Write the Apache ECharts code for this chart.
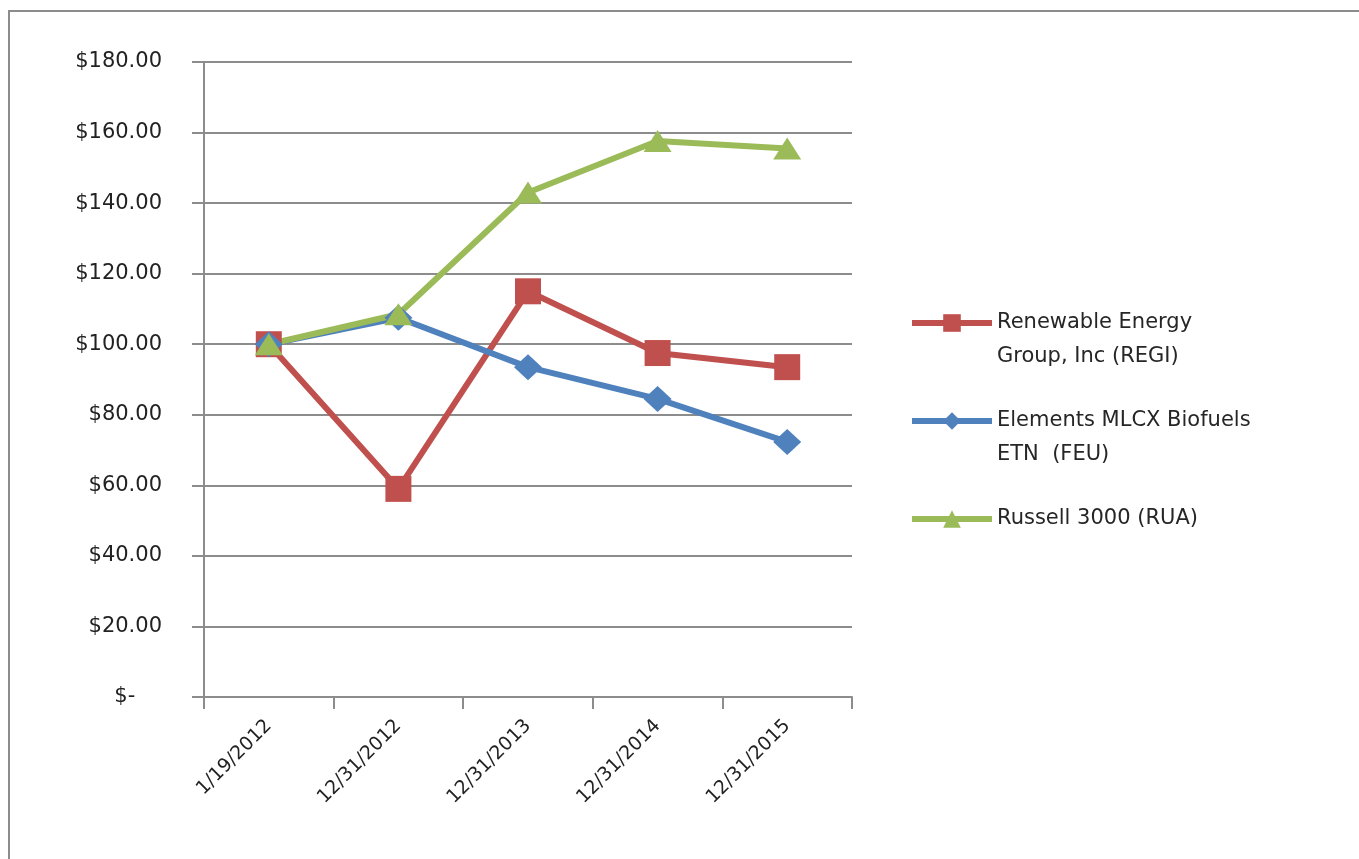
<!DOCTYPE html>
<html>
<head>
<meta charset="utf-8">
<script src="https://cdn.jsdelivr.net/npm/echarts@6/dist/echarts.min.js"></script>
<style>
html,body{margin:0;padding:0;background:#fff;}
#frame{position:absolute;left:8px;top:10px;width:1400px;height:900px;border-left:2px solid #8c8c8c;border-top:2px solid #8c8c8c;}
#chart{position:absolute;left:0;top:0;width:1359px;height:859px;}
</style>
</head>
<body>
<div id="frame"></div>
<div id="chart"></div>
<script>
const categories = ['1/19/2012', '12/31/2012', '12/31/2013', '12/31/2014', '12/31/2015'];
const regi = [100, 59, 115, 97.5, 93.5];
const feu = [100, 107.5, 93.5, 84.5, 72.3];
const rua = [100, 108.5, 143, 157.6, 155.5];
const seriesNames = ['Renewable Energy Group, Inc (REGI)', 'Elements MLCX Biofuels ETN (FEU)', 'Russell 3000 (RUA)'];
const legendLines = {
  'Renewable Energy Group, Inc (REGI)': ['Renewable Energy', 'Group, Inc (REGI)'],
  'Elements MLCX Biofuels ETN (FEU)': ['Elements MLCX Biofuels', 'ETN  (FEU)'],
  'Russell 3000 (RUA)': ['Russell 3000 (RUA)', ' ']
};
const yTicks = [0, 20, 40, 60, 80, 100, 120, 140, 160, 180];

const chart = echarts.init(document.getElementById('chart'), null, {renderer: 'canvas'});
const font = 'DejaVu Sans';
function mk(name, data, color, symbol, size) {
  return {
    name: name, type: 'line', data: data,
    symbol: symbol, symbolSize: size,
    itemStyle: {color: color},
    lineStyle: {color: color, width: 6},
    emphasis: {disabled: true},
    animation: false
  };
}
chart.setOption({
  backgroundColor: 'transparent',
  animation: false,
  grid: {left: 204, right: 507, top: 62, bottom: 162, containLabel: false},
  legend: {
    orient: 'vertical',
    left: 904,
    top: 267,
    itemWidth: 80,
    itemHeight: 22,
    itemGap: -4,
    data: seriesNames,
    lineStyle: {width: 6},
    formatter: function (n) { const l = legendLines[n]; return ' \n' + l[0] + '\n' + l[1]; },
    textStyle: {fontFamily: font, fontSize: 21, color: '#262626', lineHeight: 34}
  },
  xAxis: {
    type: 'category',
    data: categories,
    boundaryGap: true,
    axisLine: {lineStyle: {color: '#8c8c8c', width: 2}},
    axisTick: {show: true, length: 12, lineStyle: {color: '#8c8c8c', width: 2}},
    axisLabel: {rotate: 45, margin: 26, fontFamily: font, fontSize: 19, color: '#222'}
  },
  yAxis: {
    type: 'value',
    min: 0, max: 180, interval: 20,
    axisLine: {show: true, lineStyle: {color: '#8c8c8c', width: 2}},
    axisTick: {show: true, length: 12, lineStyle: {color: '#8c8c8c', width: 2}},
    splitLine: {lineStyle: {color: '#8c8c8c', width: 2}},
    axisLabel: {
      margin: 42, fontFamily: font, fontSize: 21, color: '#222',
      formatter: function (v) { return v === 0 ? '$-    ' : '$' + v.toFixed(2); }
    }
  },
  series: [
    mk(seriesNames[0], regi, '#C0504D', 'rect', 26),
    mk(seriesNames[1], feu, '#4F81BD', 'diamond', [28, 26]),
    mk(seriesNames[2], rua, '#9BBB59', 'triangle', [28, 22])
  ]
});
</script>
</body>
</html>
